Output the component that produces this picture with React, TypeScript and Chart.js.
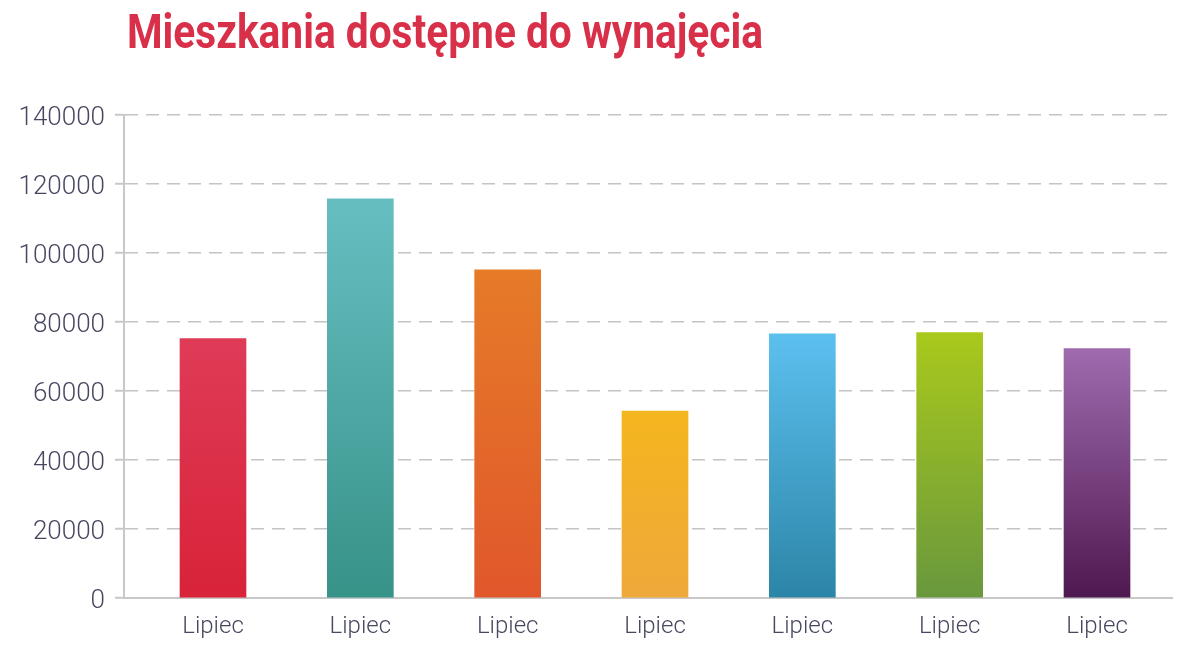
import React, { useEffect, useRef } from "react";
import { Chart, registerables } from "chart.js";

Chart.register(...registerables);

const titleText = "Mieszkania dostępne do wynajęcia";
const categories = ["Lipiec", "Lipiec", "Lipiec", "Lipiec", "Lipiec", "Lipiec", "Lipiec"];
const values = [75200, 115700, 95100, 54200, 76600, 76900, 72300];
const topColors = ["#df3b57", "#67bec1", "#e67b28", "#f4b61e", "#5cc0ef", "#a9c91c", "#a06bae"];
const bottomColors = ["#d82339", "#379288", "#e0572b", "#efa83b", "#2c85a7", "#69983d", "#4e1950"];
const yMin = 0;
const yMax = 140000;
const yStep = 20000;

const AXIS_FONT = 'Roboto, "DejaVu Sans", sans-serif';
const TITLE_COLOR = "#d9304a";

// Title drawn condensed (horizontally scaled) to mimic a condensed bold face
const condensedTitle = {
  id: "condensedTitle",
  afterDraw(chart: any) {
    const ctx = chart.ctx as CanvasRenderingContext2D;
    ctx.save();
    ctx.font = "bold 49px Roboto, 'DejaVu Sans', sans-serif";
    ctx.fillStyle = TITLE_COLOR;
    ctx.textBaseline = "alphabetic";
    ctx.textAlign = "left";
    const w = ctx.measureText(titleText).width;
    const targetWidth = 636;
    ctx.translate(127, 48);
    ctx.scale(targetWidth / w, 1);
    ctx.fillText(titleText, 0, 0);
    ctx.restore();
  },
};

export default function App() {
  const ref = useRef<HTMLCanvasElement | null>(null);

  useEffect(() => {
    document.body.style.margin = "0";
    const canvas = ref.current;
    if (!canvas) return;
    const chart = new Chart(canvas, {
      type: "bar",
      data: {
        datasets: [
          {
            data: values.map((v, i) => ({ x: i, y: v })),
            barThickness: 66,
            borderWidth: 0,
            backgroundColor: (ctx: any) => {
              const c = ctx.chart;
              const i = ctx.dataIndex;
              if (!c.chartArea || i == null) return topColors[i ?? 0];
              const ys = c.scales.y;
              const top = ys.getPixelForValue(values[i]);
              const bottom = ys.getPixelForValue(0);
              const g = c.ctx.createLinearGradient(0, top, 0, bottom);
              g.addColorStop(0, topColors[i]);
              g.addColorStop(1, bottomColors[i]);
              return g;
            },
          },
        ],
      },
      plugins: [condensedTitle],
      options: {
        responsive: false,
        animation: false,
        layout: { padding: { left: 0, right: 28, top: 115, bottom: 0 } },
        plugins: {
          legend: { display: false },
          tooltip: { enabled: false },
          title: { display: false },
        },
        scales: {
          x: {
            type: "linear",
            offset: false,
            min: -0.6041,
            max: 6.509,
            grid: { display: false },
            border: { display: true, color: "#c8c8c8", width: 2 },
            ticks: {
              stepSize: 1,
              autoSkip: false,
              maxRotation: 0,
              includeBounds: false,
              padding: 7,
              color: "#474860",
              font: { family: AXIS_FONT, size: 24, weight: "300" },
              callback: (v: any) => {
                const n = Number(v);
                return Number.isInteger(n) && n >= 0 && n < categories.length ? categories[n] : "";
              },
            },
            afterFit: (s: any) => {
              s.height = 49;
            },
          },
          y: {
            min: yMin,
            max: yMax,
            grid: {
              color: "#c4c4c4",
              lineWidth: 1.5,
              tickLength: 9,
              tickColor: "#c8c8c8",
              tickWidth: 2,
            },
            border: { display: true, color: "#c8c8c8", width: 2, dash: [13, 8] },
            ticks: {
              stepSize: yStep,
              padding: 10,
              labelOffset: 3,
              color: "#474860",
              font: { family: AXIS_FONT, size: 26, weight: "300" },
              callback: (v: any) => String(v),
            },
            afterFit: (s: any) => {
              s.width = 124;
            },
          },
        },
      },
    });
    return () => chart.destroy();
  }, []);

  return (
    <div style={{ width: 1200, height: 647, background: "#fff" }}>
      <canvas ref={ref} width={1200} height={647} style={{ display: "block" }} />
    </div>
  );
}
